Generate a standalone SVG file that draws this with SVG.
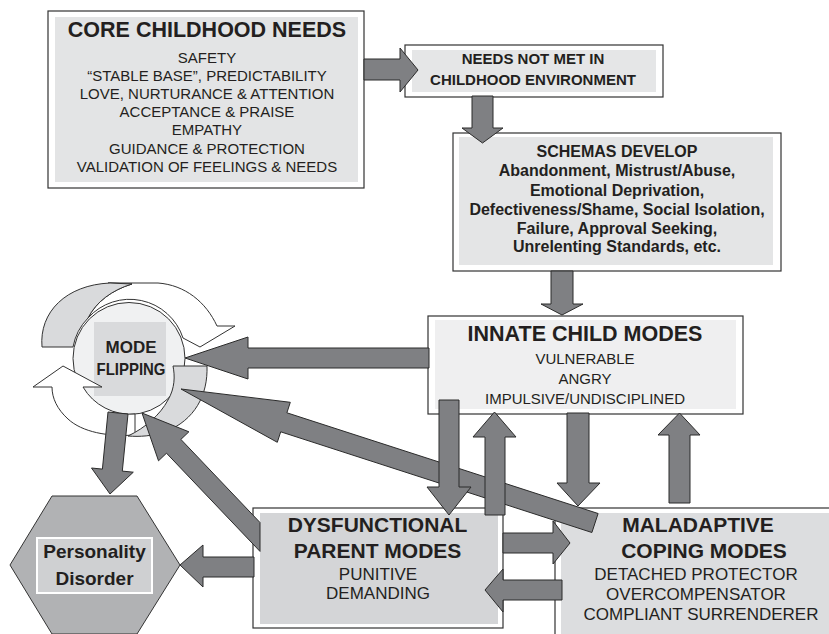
<svg xmlns="http://www.w3.org/2000/svg" width="829" height="634" viewBox="0 0 829 634">
<style>
.outer{fill:#fff;stroke:#333;stroke-width:1.2}
.arrow{fill:#7f8083;stroke:#2b2b2b;stroke-width:1;stroke-linejoin:miter}
.t{font-family:"Liberation Sans",Arial,Helvetica,sans-serif;fill:#231f20;text-anchor:middle}
.b{font-weight:bold}
.band{stroke:#333;stroke-width:1}
</style>
<rect width="829" height="634" fill="#fff"/>

<g id="core-needs">
<rect class="outer" x="48" y="11" width="316" height="177"/>
<rect x="55" y="17" width="303" height="165" fill="#e3e4e5"/>
<text class="t b" x="207" y="37" font-size="21.5">CORE CHILDHOOD NEEDS</text>
<g class="t" font-size="15">
<text x="207" y="62.5">SAFETY</text>
<text x="207" y="80.7">“STABLE BASE”, PREDICTABILITY</text>
<text x="207" y="98.9">LOVE, NURTURANCE &amp; ATTENTION</text>
<text x="207" y="117.1">ACCEPTANCE &amp; PRAISE</text>
<text x="207" y="135.3">EMPATHY</text>
<text x="207" y="153.5">GUIDANCE &amp; PROTECTION</text>
<text x="207" y="171.7">VALIDATION OF FEELINGS &amp; NEEDS</text>
</g>
</g>

<g id="needs-not-met">
<rect class="outer" x="405" y="45" width="258" height="52"/>
<rect x="412" y="50" width="244" height="42" fill="#e5e6e7"/>
<text class="t b" x="533" y="64" font-size="15">NEEDS NOT MET IN</text>
<text class="t b" x="533" y="85" font-size="15">CHILDHOOD ENVIRONMENT</text>
</g>

<g id="schemas-develop">
<rect class="outer" x="453" y="133" width="328" height="138"/>
<rect x="459" y="137" width="314" height="128" fill="#e4e5e6"/>
<g class="t b" font-size="16">
<text x="617" y="157">SCHEMAS DEVELOP</text>
<text x="617" y="176">Abandonment, Mistrust/Abuse,</text>
<text x="617" y="195.5">Emotional Deprivation,</text>
<text x="617" y="214.5">Defectiveness/Shame, Social Isolation,</text>
<text x="617" y="233.5">Failure, Approval Seeking,</text>
<text x="617" y="252">Unrelenting Standards, etc.</text>
</g>
</g>

<g id="innate-child-modes">
<rect class="outer" x="428" y="316" width="315" height="98"/>
<rect x="435" y="320" width="301" height="89" fill="#efeff0"/>
<text class="t b" x="585" y="340.5" font-size="21.5">INNATE CHILD MODES</text>
<g class="t" font-size="15">
<text x="585" y="363.5">VULNERABLE</text>
<text x="585" y="383.5">ANGRY</text>
<text x="585" y="404">IMPULSIVE/UNDISCIPLINED</text>
</g>
</g>

<g id="mode-flipping">
<path class="band" fill="#fff" d="M108,283 L158,283 C185,285 206,302 217,326 L235,326 L200,347 L183,338 A56 56 0 0 0 88,318 C96,302 112,290 132,284 Z"/>
<path class="band" fill="#d9dadc" d="M42,347 C39,312 66,285 110,283 L132,284 C112,290 96,302 88,318 A56 56 0 0 0 73,347 Z"/>
<circle cx="129" cy="358.5" r="56" fill="#f0f1f2" stroke="#333" stroke-width="1"/>
<rect x="94" y="322" width="72" height="74" fill="#d9dadc"/>
<text class="t b" x="131" y="353.3" font-size="17">MODE</text>
<text class="t b" x="131" y="375" font-size="17" textLength="69" lengthAdjust="spacingAndGlyphs">FLIPPING</text>
<path class="band" fill="#fff" d="M135,435 C108,437 82,432 68,419 C57,409 52,398 52,387 L33,387 L63,366 L102,387 L83,387 A55 55 0 0 0 135,414 Z"/>
<path class="band" fill="#d9dadc" d="M173,366 L207,366 C208,395 195,420 165,432 C152,436 140,437 128,436 C145,428 160,415 168,400 C175,388 175,376 173,366 Z"/>
</g>

<g id="personality-disorder">
<polygon points="52,496 137,496 180,565 137,634 52,634 10,565" fill="#b1b2b4" stroke="#333" stroke-width="1"/>
<rect x="37" y="538" width="115" height="55" fill="#cfd0d2" stroke="#fff" stroke-width="2"/>
<text class="t b" x="94.5" y="558.3" font-size="19">Personality</text>
<text class="t b" x="94.5" y="585" font-size="19">Disorder</text>
</g>

<g id="dysfunctional-parent-modes">
<rect class="outer" x="253" y="508" width="250" height="120"/>
<rect x="260" y="513" width="238" height="111" fill="#d4d5d7"/>
<text class="t b" x="377.5" y="532" font-size="21">DYSFUNCTIONAL</text>
<text class="t b" x="377.5" y="557.5" font-size="21">PARENT MODES</text>
<text class="t" x="378" y="580" font-size="17">PUNITIVE</text>
<text class="t" x="378" y="599" font-size="17">DEMANDING</text>
</g>

<g id="maladaptive-coping-modes">
<rect class="outer" x="555" y="508" width="280" height="130"/>
<rect x="561" y="513" width="268" height="125" fill="#dcdddf"/>
<text class="t b" x="698" y="532" font-size="21">MALADAPTIVE</text>
<text class="t b" x="704" y="558" font-size="21">COPING MODES</text>
<text class="t" x="696" y="579.5" font-size="17">DETACHED PROTECTOR</text>
<text class="t" x="696" y="599.5" font-size="17">OVERCOMPENSATOR</text>
<text class="t" x="701" y="619.5" font-size="17">COMPLIANT SURRENDERER</text>
</g>

<g id="connectors">
<polygon class="arrow" points="364,59 400,59 400,48 418,70 400,92 400,80 364,80"/>
<polygon class="arrow" points="472,96 493,96 493,128 503,128 482.5,143 462,128 472,128"/>
<polygon class="arrow" points="551,271 573,271 573,304 583,304 562,315 541,304 551,304"/>
<polygon class="arrow" points="429,348 248,348 248,337 185,358 248,379 248,368 429,368"/>
<polygon class="arrow" points="181,389 290.3,402.3 286.9,412.8 598.1,513.5 591.9,532.5 280.7,431.8 277.3,442.3"/>
<polygon class="arrow" points="142,413 188.9,431.8 180.9,439.4 260,522.5 260,551.4 166.5,453.2 158.5,460.8"/>
<polygon class="arrow" points="110,494 133.3,472.2 122.3,471.1 128,414 108,412 102.4,469.1 91.5,468"/>
<polygon class="arrow" points="254,557 203,557 203,545 180,565 203,587 203,577 254,577"/>
<polygon class="arrow" points="439,400 459,400 459,487 471,487 449,515 427,487 439,487"/>
<polygon class="arrow" points="485,515 505,515 505,437 516,437 494.5,412 473,437 485,437"/>
<polygon class="arrow" points="567,413 589,413 589,483 600,483 578,506 557,483 567,483"/>
<polygon class="arrow" points="669,503 690,503 690,435 700,435 679.5,413 658,435 669,435"/>
<polygon class="arrow" points="503,533 553,533 553,521 570,543 553,564 553,553 503,553"/>
<polygon class="arrow" points="562,580 503,580 503,569 485,590 503,612 503,600 562,600"/>
</g>
</svg>
